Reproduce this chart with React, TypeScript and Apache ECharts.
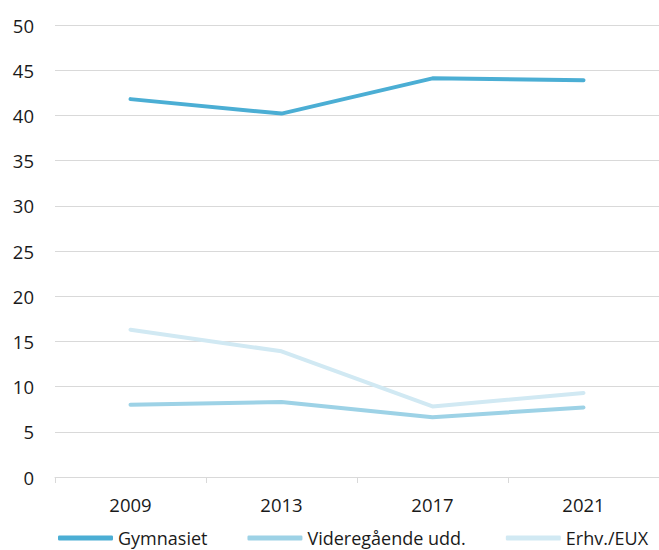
import React, { useEffect, useRef } from "react";
import * as echarts from "echarts";

const years = ["2009", "2013", "2017", "2021"];
const gymnasiet = [41.8, 40.2, 44.1, 43.9];
const videregaaende = [8.0, 8.3, 6.6, 7.7];
const erhvEux = [16.3, 13.9, 7.8, 9.3];
const seriesNames = ["Gymnasiet", "Videregående udd.", "Erhv./EUX"];
const colors = ["#4BAED4", "#9DD2E6", "#D1E9F3"];

export default function App() {
  const ref = useRef<HTMLDivElement>(null);
  useEffect(() => {
    const chart = echarts.init(ref.current!, null, { renderer: "svg" });
    const font = "'Open Sans', 'Liberation Sans', sans-serif";
    const data = [gymnasiet, videregaaende, erhvEux];
    chart.setOption({
      animation: false,
      textStyle: { fontFamily: font },
      grid: { left: 55, top: 25, width: 604, height: 452, containLabel: false },
      xAxis: {
        type: "category",
        data: years,
        boundaryGap: true,
        axisLine: { show: true, lineStyle: { color: "#D9D9D9", width: 1 } },
        axisTick: { show: true, length: 6, lineStyle: { color: "#D9D9D9" } },
        axisLabel: { color: "#1a1a1a", fontSize: 18.5, fontFamily: font, margin: 18 },
      },
      yAxis: {
        type: "value",
        min: 0,
        max: 50,
        interval: 5,
        axisLine: { show: false },
        axisTick: { show: false },
        splitLine: { lineStyle: { color: "#D9D9D9", width: 1 } },
        axisLabel: { color: "#1a1a1a", fontSize: 18.5, fontFamily: font, margin: 21 },
      },
      legend: {
        left: 58,
        top: 529,
        width: 900,
        padding: 0,
        orient: "horizontal",
        itemWidth: 55,
        itemHeight: 5,
        itemGap: 40,
        icon: "roundRect",
        textStyle: { color: "#1a1a1a", fontSize: 18, fontFamily: font },
        data: seriesNames,
      },
      series: seriesNames.map((name, i) => ({
        name,
        type: "line",
        data: data[i],
        symbol: "none",
        showSymbol: false,
        color: colors[i],
        lineStyle: { color: colors[i], width: 4, cap: "round", join: "round" },
        z: 3 - i,
      })),
    });
    return () => chart.dispose();
  }, []);
  return <div ref={ref} style={{ width: 659, height: 550, position: "absolute", left: 0, top: 0 }} />;
}
